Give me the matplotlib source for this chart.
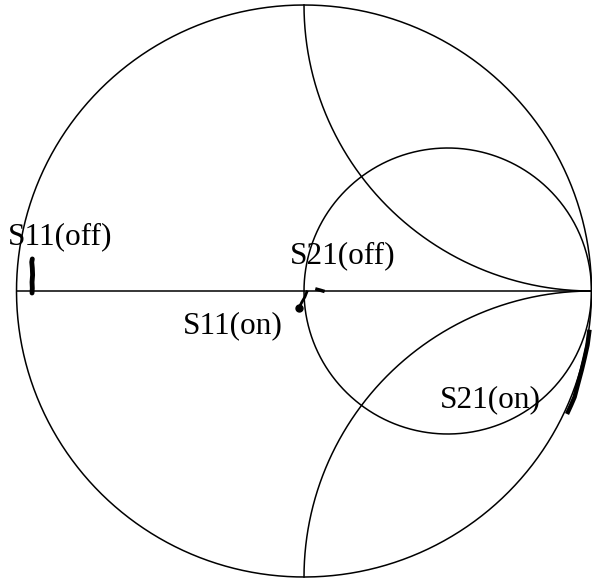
import numpy as np
import matplotlib.pyplot as plt

s11_off_re = [-0.946, -0.945, -0.946, -0.944, -0.945, -0.947, -0.945]
s11_off_im = [-0.007, 0.010, 0.031, 0.056, 0.080, 0.101, 0.112]

s11_on_re = [0.010, 0.003, -0.007, -0.014, -0.017]
s11_on_im = [-0.003, -0.021, -0.038, -0.052, -0.059]

s21_off_re = [0.045, 0.056, 0.066]
s21_off_im = [0.006, 0.003, 0.000]

s21_on_re = [0.992, 0.986, 0.976, 0.966, 0.952, 0.941, 0.929, 0.918]
s21_on_im = [-0.143, -0.189, -0.234, -0.276, -0.329, -0.371, -0.399, -0.423]

labels = ['S11(off)', 'S21(off)', 'S11(on)', 'S21(on)']
label_pos = [(-1.030, 0.164), (-0.049, 0.098), (-0.421, -0.147), (0.473, -0.406)]


def gamma(z):
    return (z - 1) / (z + 1)


fig = plt.figure(figsize=(5.92, 5.78), dpi=100)
ax = fig.add_axes([0, 0, 1, 1])
ax.set_xlim(-1.0574, 1.0017)
ax.set_ylim(-1.0035, 1.0175)
ax.axis('off')

lw = 1.1
# outer circle
t = np.linspace(0, 2 * np.pi, 800)
ax.plot(np.cos(t), np.sin(t), color='black', lw=lw)
# real axis
ax.plot([-1, 1], [0, 0], color='black', lw=lw)
# r = 1 circle
x = np.tan(np.linspace(-np.pi / 2 + 1e-4, np.pi / 2 - 1e-4, 800))
g = gamma(1 + 1j * x)
ax.plot(g.real, g.imag, color='black', lw=lw)
# x = +1 and x = -1 arcs
r = np.tan(np.linspace(0, np.pi / 2 - 1e-4, 800))
for xv in (1, -1):
    g = gamma(r + 1j * xv)
    ax.plot(g.real, g.imag, color='black', lw=lw)

# measured traces
ax.plot(s11_off_re, s11_off_im, color='black', lw=3.5, solid_capstyle='round')
ax.plot(s11_on_re, s11_on_im, color='black', lw=2.0)
ax.plot(s11_on_re[-1:], s11_on_im[-1:], 'o', color='black', ms=5)
ax.plot(s21_off_re, s21_off_im, color='black', lw=2.5)
ax.plot(s21_on_re, s21_on_im, color='black', lw=3.2)

for lab, (px, py) in zip(labels, label_pos):
    ax.text(px, py, lab, fontsize=22.5, family='Liberation Serif',
            ha='left', va='baseline')

fig.savefig('out.png', dpi=100)
